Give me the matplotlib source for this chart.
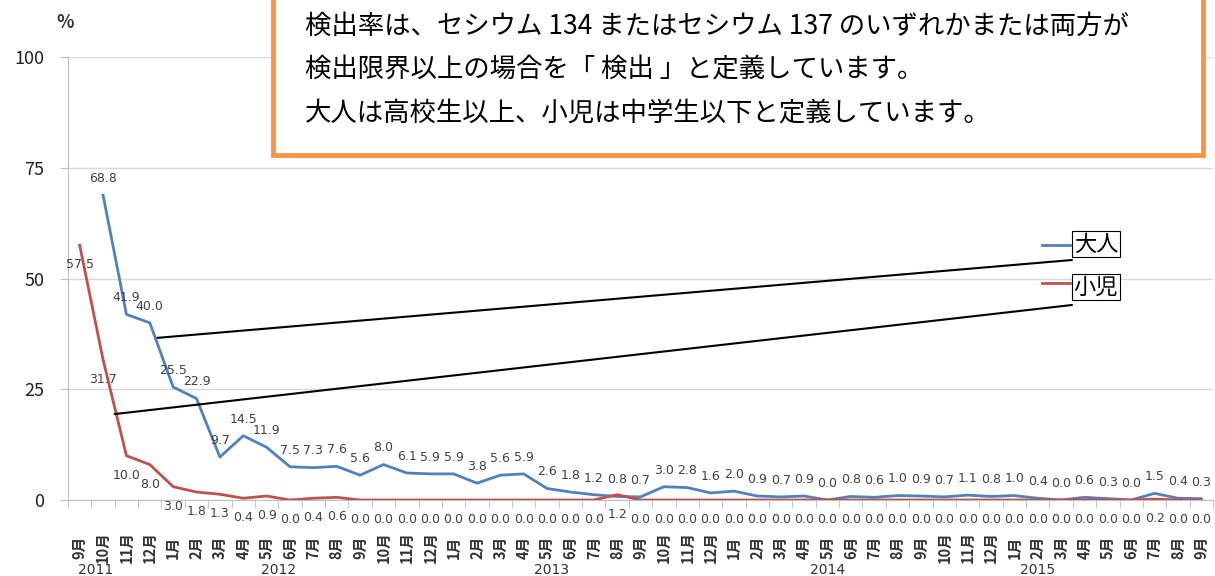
import matplotlib
matplotlib.use('Agg')
import matplotlib.pyplot as plt
from matplotlib.patches import Rectangle
from matplotlib.lines import Line2D
import numpy as np

plt.rcParams['font.family'] = ['Noto Sans CJK JP', 'DejaVu Sans']

# months: 2011/9 .. 2015/9
months = ['9月', '10月', '11月', '12月'] + ['%d月' % m for m in range(1, 13)] * 3 + ['%d月' % m for m in range(1, 10)]
years = ['2011', '2012', '2013', '2014', '2015']
year_pos = [0.7, 8.5, 20.2, 32.0, 41.0]

# 大人 (no value for 2011/9)
adult = [np.nan, 68.8, 41.9, 40.0,
         25.5, 22.9, 9.7, 14.5, 11.9, 7.5, 7.3, 7.6, 5.6, 8.0, 6.1, 5.9,
         5.9, 3.8, 5.6, 5.9, 2.6, 1.8, 1.2, 0.8, 0.7, 3.0, 2.8, 1.6,
         2.0, 0.9, 0.7, 0.9, 0.0, 0.8, 0.6, 1.0, 0.9, 0.7, 1.1, 0.8,
         1.0, 0.4, 0.0, 0.6, 0.3, 0.0, 1.5, 0.4, 0.3]
# 小児
child = [57.5, 31.7, 10.0, 8.0,
         3.0, 1.8, 1.3, 0.4, 0.9, 0.0, 0.4, 0.6, 0.0, 0.0, 0.0, 0.0,
         0.0, 0.0, 0.0, 0.0, 0.0, 0.0, 0.0, 1.2, 0.0, 0.0, 0.0, 0.0,
         0.0, 0.0, 0.0, 0.0, 0.0, 0.0, 0.0, 0.0, 0.0, 0.0, 0.0, 0.0,
         0.0, 0.0, 0.0, 0.0, 0.0, 0.0, 0.2, 0.0, 0.0]

note = ['検出率は、セシウム 134 またはセシウム 137 のいずれかまたは両方が',
        '検出限界以上の場合を「 検出 」と定義しています。',
        '大人は高校生以上、小児は中学生以下と定義しています。']

blue = '#4F81BD'
red = '#C0504D'
W, H = 1215, 576

fig = plt.figure(figsize=(W / 100, H / 100), dpi=100)
ax = fig.add_axes([68 / W, (H - 500) / H, (1213 - 68) / W, (500 - 57) / H])

x = np.arange(len(months))
ax.plot(x, adult, color=blue, lw=2, zorder=3)
ax.plot(x, child, color=red, lw=2, zorder=3)

for i, v in enumerate(adult):
    if not np.isnan(v):
        ax.annotate('%.1f' % v, (i, v), xytext=(0, 12), textcoords='offset points',
                    ha='center', va='center', fontsize=9, color='#404040', family='DejaVu Sans')
for i, v in enumerate(child):
    ax.annotate('%.1f' % v, (i, v), xytext=(0, -14), textcoords='offset points',
                ha='center', va='center', fontsize=9, color='#404040', family='DejaVu Sans')

ax.set_xlim(-0.5, len(months) - 0.5)
ax.set_ylim(0, 100)
ax.set_yticks([0, 25, 50, 75, 100])
ax.yaxis.grid(True, color='#D9D9D9', lw=1)
ax.set_axisbelow(True)
for s in ['top', 'right']:
    ax.spines[s].set_visible(False)
for s in ['left', 'bottom']:
    ax.spines[s].set_color('#BFBFBF')
ax.tick_params(axis='y', length=6, color='#BFBFBF', labelsize=13, labelcolor='#222222', pad=11)

ax.set_xticks(x)
ax.set_xticklabels(months, rotation=90, fontsize=10.5, fontweight='bold', color='#333333')
ax.set_xticks(np.arange(-0.5, len(months), 1), minor=True)
ax.tick_params(axis='x', which='major', length=0, pad=34)
ax.tick_params(axis='x', which='minor', length=6, color='#BFBFBF')
for lbl in ax.get_xticklabels():
    lbl.set_va('center')

for yr, p in zip(years, year_pos):
    ax.text(p, -0.158, yr, transform=ax.get_xaxis_transform(), ha='center', va='center',
            fontsize=10, color='#333333', family='DejaVu Sans')

fig.text(65 / W, 1 - 22 / H, '%', ha='center', va='center', fontsize=13, fontweight='bold', color='#333333')

# note box
fig.add_artist(Rectangle((273 / W, (H - 155) / H), (1203 - 273) / W, 0.5, transform=fig.transFigure,
                         fc='white', ec='#F79646', lw=3.5, zorder=5))
for k, line in enumerate(note):
    fig.text(305 / W, 1 - (26 + 44 * k) / H, line, ha='left', va='center', fontsize=19, color='black', zorder=6)

# legend
fig.add_artist(Line2D([1042 / W, 1070 / W], [1 - 245 / H] * 2, color=blue, lw=2))
fig.add_artist(Line2D([1042 / W, 1070 / W], [1 - 283 / H] * 2, color=red, lw=2))
box = dict(boxstyle='square,pad=0.08', fc='white', ec='black', lw=0.8)
fig.text(1096 / W, 1 - 244 / H, '大人', ha='center', va='center', fontsize=16, bbox=box)
fig.text(1096 / W, 1 - 287 / H, '小児', ha='center', va='center', fontsize=16, bbox=box)

# callout lines
ax.annotate('', xy=(3.33, 36.6), xytext=(1072, H - 260), textcoords='figure pixels',
            arrowprops=dict(arrowstyle='-', color='black', lw=1.5, shrinkA=0, shrinkB=0))
ax.annotate('', xy=(1.5, 19.4), xytext=(1072, H - 305), textcoords='figure pixels',
            arrowprops=dict(arrowstyle='-', color='black', lw=1.5, shrinkA=0, shrinkB=0))

plt.savefig('out.png', dpi=100)
